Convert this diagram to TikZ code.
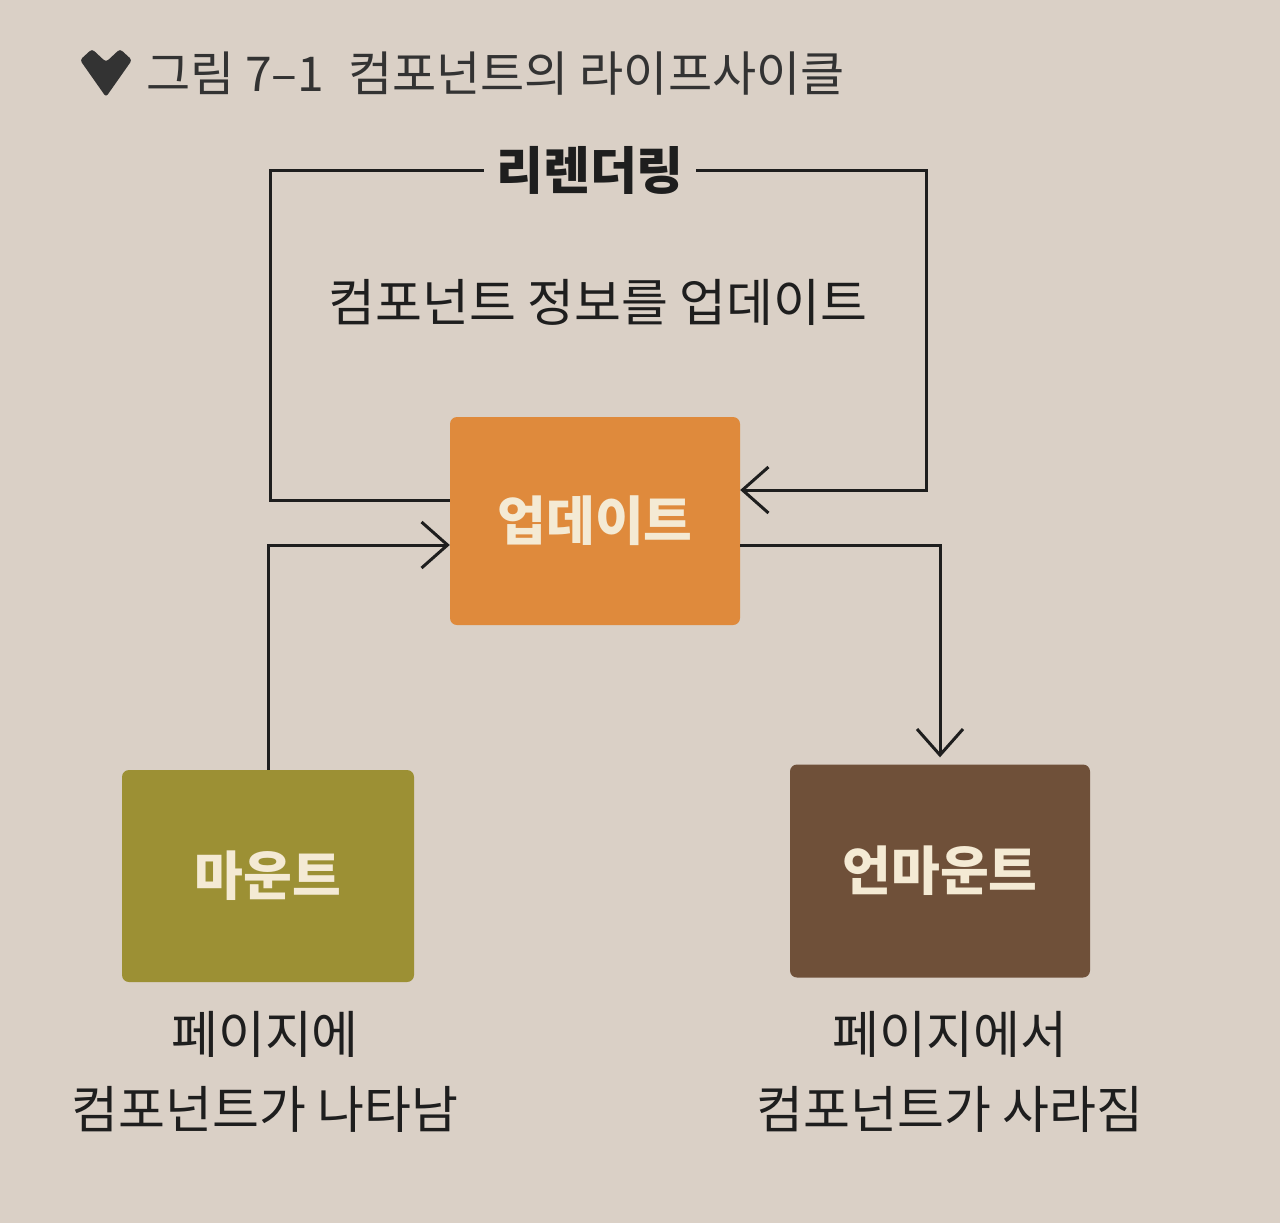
\documentclass[tikz,border=0pt]{standalone}
\usepackage{fontspec}
\newfontfamily\kr{Noto Sans CJK KR}
\usetikzlibrary{arrows.meta}
\definecolor{bgc}{HTML}{DAD0C6}
\definecolor{updc}{HTML}{DF8A3C}
\definecolor{mntc}{HTML}{9C9034}
\definecolor{unmc}{HTML}{6F5039}
\definecolor{boxtext}{HTML}{F4EAD4}
\definecolor{ink}{HTML}{1E1E1E}
\definecolor{titleink}{HTML}{333333}
\tikzset{
  stagebox/.style={rounded corners=7pt, draw=none, text=boxtext, font=\kr\bfseries\fontsize{53}{58}\selectfont, inner sep=0pt},
  plain/.style={text=ink, font=\kr\fontsize{51}{75}\selectfont, align=center, inner sep=0pt},
  conn/.style={draw=ink, line width=3pt},
  arr/.style={conn, -{Straight Barb[length=26pt,width=46pt,line width=3pt]}}
}
\begin{document}
\begin{tikzpicture}[x=1pt,y=-1pt]
\fill[bgc] (0,0) rectangle (1280,1223);
\useasboundingbox (0,0) rectangle (1280,1223);
% title
\fill[titleink, rounded corners=3pt] (80,60) -- (92,49) -- (106,62) -- (120,49) -- (132,60) -- (106,97) -- cycle;
\node[anchor=west, text=titleink, font=\kr\fontsize{48}{54}\selectfont, inner sep=0pt] (title) at (146,74) {그림 7–1\hspace{24pt}컴포넌트의 라이프사이클};
% boxes
\node[stagebox, fill=updc, minimum width=290pt, minimum height=208pt] (upd) at (595,521) {업데이트};
\node[stagebox, fill=mntc, minimum width=292pt, minimum height=212pt] (mnt) at (268,876) {마운트};
\node[stagebox, fill=unmc, minimum width=300pt, minimum height=213pt] (unm) at (940,871) {언마운트};
% labels
\node[plain, font=\kr\bfseries\fontsize{51}{56}\selectfont, inner xsep=12pt] (rr) at (590,170) {리렌더링};
\node[plain] (info) at (598,302) {컴포넌트 정보를 업데이트};
\node[plain] (mdesc) at (265,1072) {페이지에\\컴포넌트가 나타남};
\node[plain] (udesc) at (950,1072) {페이지에서\\컴포넌트가 사라짐};
% connectors
\coordinate (lc) at (270,170);
\coordinate (rc) at (926,170);
\draw[conn] ([yshift=21pt]upd.west) -| (lc) -- (rr.west);
\draw[arr] (rr.east) -- (rc) |- ([yshift=31pt]upd.east);
\draw[arr] (mnt.north) |- ([yshift=-24pt]upd.west);
\draw[arr, shorten >=7pt] ([yshift=-24pt]upd.east) -| (unm.north);
\end{tikzpicture}
\end{document}
